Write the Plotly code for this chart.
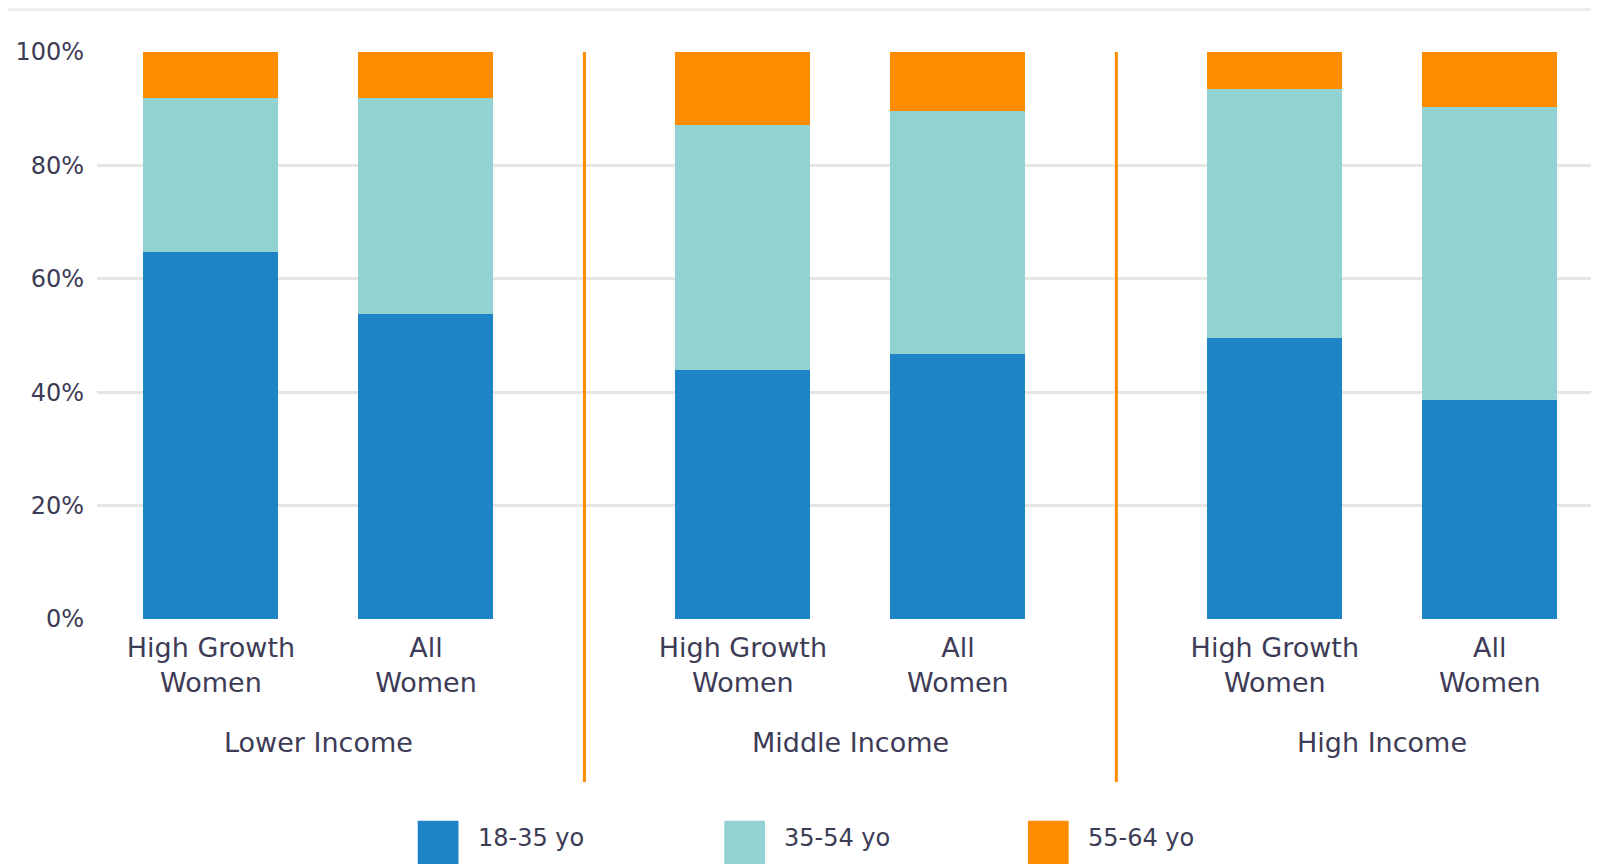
import plotly.graph_objects as go

# ---- data ----
groups = ["Lower Income", "Middle Income", "High Income"]
categories = ["High Growth<br>Women", "All<br>Women"]
series_names = ["18-35 yo", "35-54 yo", "55-64 yo"]
young = [64.7, 53.8, 43.9, 46.8, 49.6, 38.7]
middle = [27.2, 38.1, 43.3, 42.8, 43.9, 51.6]
older = [8.1, 8.1, 12.8, 10.4, 6.5, 9.7]
y_ticks = [0, 20, 40, 60, 80, 100]

colors = ["#1C84C7", "#93D2D3", "#FE8C00"]
text_color = "#3d3b55"
font_family = "DejaVu Sans"

group_step = 2.474
xpos = []
xlabels = []
for g in range(len(groups)):
    for i, c in enumerate(categories):
        xpos.append(g * group_step + i)
        xlabels.append(c)

fig = go.Figure()
for name, vals, col in zip(series_names, [young, middle, older], colors):
    fig.add_trace(go.Bar(
        x=xpos, y=vals, name=name, marker=dict(color=col, line=dict(width=0)),
        width=0.628, showlegend=False,
    ))

shapes = []
annotations = []
# group separators
for g in range(len(groups) - 1):
    xm = (g * group_step + 1 + (g + 1) * group_step) / 2
    shapes.append(dict(type="line", xref="x", yref="paper", x0=xm, x1=xm,
                       y0=1, y1=-0.2875, line=dict(color="#FE8C00", width=3)))
# group labels
for g, name in enumerate(groups):
    xc = g * group_step + 0.5
    annotations.append(dict(x=xc, y=-0.217, xref="x", yref="paper", text=name,
                            showarrow=False, xanchor="center", yanchor="middle",
                            font=dict(size=27, color=text_color, family=font_family)))
# top strip
shapes.append(dict(type="rect", xref="paper", yref="paper", x0=-0.07, x1=1.01,
                   y0=1.0723, y1=1.078, fillcolor="#eeeded", line=dict(width=0)))
# custom legend
leg_x = [0.2124, 0.4154, 0.6165]
box_w = 0.027
for lx, name, col in zip(leg_x, series_names, colors):
    shapes.append(dict(type="rect", xref="paper", yref="paper", x0=lx, x1=lx + box_w,
                       y0=-0.356, y1=-0.45, fillcolor=col, line=dict(width=0)))
    annotations.append(dict(x=lx + box_w + 0.0115, y=-0.386, xref="paper", yref="paper",
                            text=name, showarrow=False, xanchor="left", yanchor="middle",
                            font=dict(size=24, color=text_color, family=font_family)))

fig.update_layout(
    width=1599, height=864,
    margin=dict(l=89, r=0, t=44, b=253),
    barmode="stack",
    plot_bgcolor="white", paper_bgcolor="white",
    shapes=shapes, annotations=annotations,
    xaxis=dict(range=[-0.530, 6.493], tickmode="array", tickvals=xpos, ticktext=xlabels,
               showgrid=False, zeroline=False, showline=False, ticks="",
               ticklabelstandoff=10,
               tickfont=dict(size=27, color=text_color, family=font_family)),
    yaxis=dict(range=[0, 100], tickmode="array", tickvals=y_ticks,
               ticktext=[f"{v}%" for v in y_ticks],
               showgrid=True, gridcolor="#e6e6e1", gridwidth=3, zeroline=False,
               showline=False, ticks="", ticklabelstandoff=12,
               tickfont=dict(size=24, color=text_color, family=font_family)),
)

fig.write_html("out.html")
